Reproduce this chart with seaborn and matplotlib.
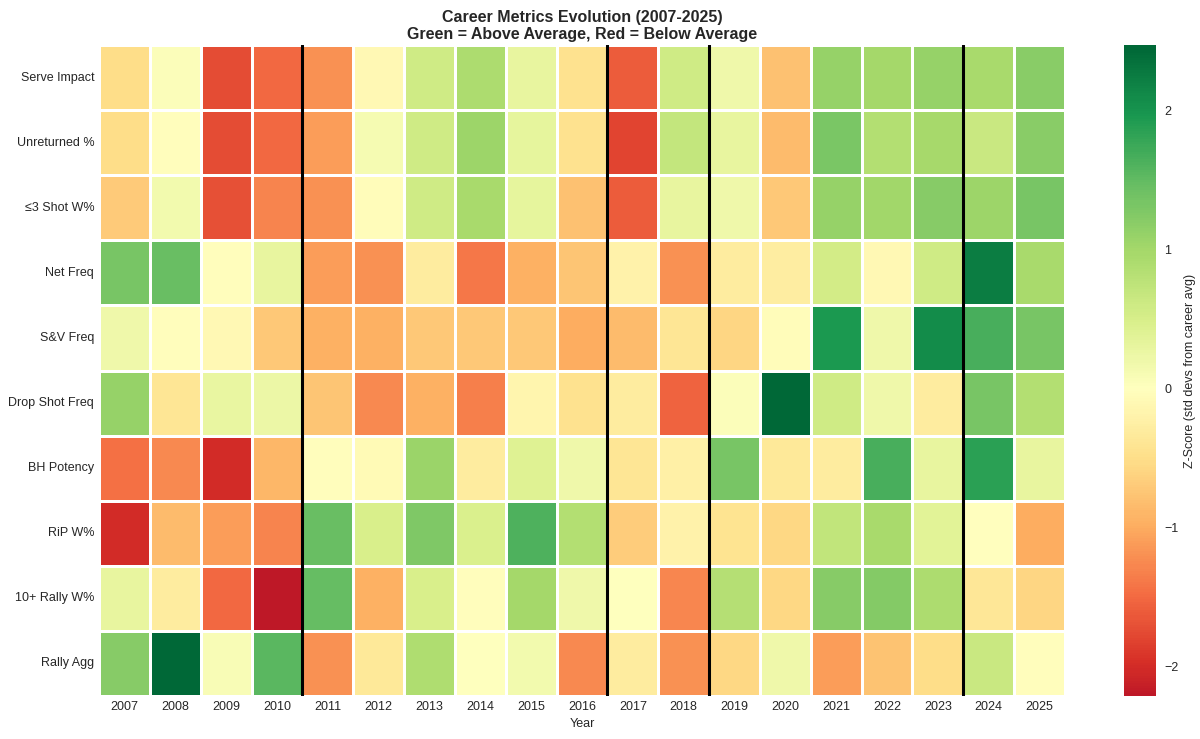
import numpy as np
import pandas as pd
import seaborn as sns
import matplotlib
matplotlib.use('Agg')
import matplotlib.pyplot as plt

years = list(range(2007, 2026))
metrics = ['Serve Impact', 'Unreturned %', '≤3 Shot W%', 'Net Freq', 'S&V Freq',
           'Drop Shot Freq', 'BH Potency', 'RiP W%', '10+ Rally W%', 'Rally Agg']

# z-scores per metric, one value per year 2007-2025
serve_impact = [-0.5, 0.05, -1.75, -1.5, -1.2, -0.1, 0.6, 0.9, 0.3, -0.45, -1.6, 0.6, 0.2, -0.8, 1.1, 1.0, 1.1, 0.95, 1.2]
unreturned = [-0.5, -0.03, -1.75, -1.5, -1.1, 0.12, 0.6, 1.05, 0.32, -0.45, -1.8, 0.7, 0.3, -0.85, 1.3, 0.85, 0.97, 0.65, 1.2]
short_pts = [-0.7, 0.15, -1.7, -1.3, -1.2, -0.05, 0.58, 0.95, 0.32, -0.8, -1.6, 0.3, 0.2, -0.72, 1.1, 1.02, 1.22, 1.05, 1.32]
net_freq = [1.35, 1.45, -0.02, 0.3, -1.1, -1.2, -0.3, -1.4, -0.95, -0.75, -0.2, -1.2, -0.3, -0.28, 0.55, -0.1, 0.57, 2.25, 0.95]
sv_freq = [0.2, -0.03, -0.1, -0.72, -0.95, -0.95, -0.72, -0.72, -0.72, -1.0, -0.85, -0.4, -0.6, -0.05, 1.95, 0.2, 2.1, 1.65, 1.32]
drop_shot = [1.1, -0.4, 0.28, 0.25, -0.75, -1.25, -0.95, -1.35, -0.18, -0.45, -0.3, -1.55, 0.05, 2.47, 0.6, 0.2, -0.3, 1.32, 0.85]
bh_potency = [-1.45, -1.25, -2.0, -0.9, -0.03, -0.08, 1.08, -0.3, 0.42, 0.2, -0.4, -0.25, 1.32, -0.35, -0.3, 1.65, 0.3, 1.85, 0.3]
rip_w = [-2.0, -0.85, -1.1, -1.3, 1.45, 0.48, 1.28, 0.47, 1.62, 0.85, -0.68, -0.2, -0.42, -0.58, 0.72, 0.95, 0.38, -0.01, -1.0]
long_rally = [0.3, -0.3, -1.5, -2.21, 1.47, -0.95, 0.48, -0.02, 1.0, 0.2, 0.02, -1.28, 0.83, -0.58, 1.22, 1.24, 0.9, -0.38, -0.6]
rally_agg = [1.22, 2.45, 0.08, 1.55, -1.2, -0.35, 0.88, 0.02, 0.15, -1.25, -0.3, -1.2, -0.58, 0.2, -1.1, -0.78, -0.5, 0.65, -0.02]

# era boundaries (drawn after these years)
era_breaks = [2010, 2016, 2018, 2023]

df = pd.DataFrame([serve_impact, unreturned, short_pts, net_freq, sv_freq,
                   drop_shot, bh_potency, rip_w, long_rally, rally_agg],
                  index=metrics, columns=years)

sns.set_style('whitegrid')
plt.rcParams['font.family'] = ['Liberation Sans', 'DejaVu Sans']

fig = plt.figure(figsize=(12, 7.39), dpi=100)
ax = fig.add_axes([99 / 1200, 1 - 696 / 739, 966 / 1200, 651 / 739])
cax = fig.add_axes([1124 / 1200, 1 - 696 / 739, 32 / 1200, 651 / 739])

sns.heatmap(df, cmap='RdYlGn', center=0, linewidths=0.8, linecolor='white',
            cbar_ax=cax, cbar_kws={'label': 'Z-Score (std devs from career avg)'}, ax=ax)

for yr in era_breaks:
    ax.axvline(x=years.index(yr) + 1, color='black', linewidth=2.2)

ax.set_title('Career Metrics Evolution (2007-2025)\nGreen = Above Average, Red = Below Average',
             fontsize=11.5, fontweight='bold', pad=4)
ax.set_xlabel('Year', fontsize=9, labelpad=4)
ax.set_ylabel('')
ax.tick_params(length=0, labelsize=9)
ax.tick_params(axis='y', rotation=0)
ax.tick_params(axis='x', rotation=0)
cax.tick_params(length=0, labelsize=9, pad=6)
cax.yaxis.label.set_size(9)
plt.savefig('out.png', dpi=100)
